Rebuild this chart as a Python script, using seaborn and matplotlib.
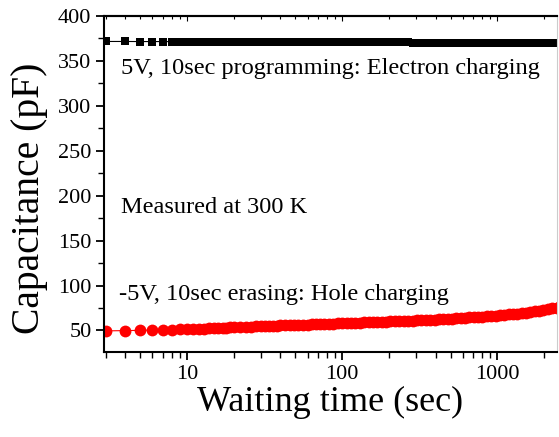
import numpy as np
import pandas as pd
import matplotlib
matplotlib.use("Agg")
import matplotlib.pyplot as plt
import matplotlib.ticker as mticker
import seaborn as sns

# waiting time in seconds
time_s = [3, 4, 5, 6, 7, 8, 9, 10, 11, 12, 13, 14, 15, 16, 17, 18, 19, 20,
          22, 24, 26, 28, 30, 32, 34, 36, 38, 40, 43, 46, 49, 52, 56, 60,
          64, 68, 72, 77, 82, 88, 94, 100, 107, 114, 122, 130, 139, 148,
          158, 169, 180, 192, 205, 219, 234, 250, 267, 285, 304, 324, 346,
          369, 394, 420, 448, 478, 510, 544, 580, 619, 660, 704, 751, 801,
          855, 912, 973, 1038, 1107, 1181, 1260, 1344, 1434, 1530, 1632,
          1741, 1857, 1981, 2113, 2254, 2404, 2500]

# capacitance after programming (pF)
cap_program = [371.6, 371.6, 371.5, 371.5, 371.5, 371.4, 371.4, 371.4, 371.3,
               371.3, 371.3, 371.3, 371.2, 371.2, 371.2, 371.2, 371.2, 371.1,
               371.1, 371.1, 371.1, 371.1, 371.0, 371.0, 371.0, 371.0, 371.0,
               371.0, 370.9, 370.9, 370.9, 370.9, 370.9, 370.8, 370.8, 370.8,
               370.8, 370.8, 370.8, 370.7, 370.7, 370.7, 370.7, 370.7, 370.7,
               370.6, 370.6, 370.6, 370.6, 370.6, 370.6, 370.5, 370.5, 370.5,
               370.5, 370.5, 370.5, 370.4, 370.4, 370.4, 370.4, 370.4, 370.4,
               370.4, 370.3, 370.3, 370.3, 370.3, 370.3, 370.3, 370.3, 370.2,
               370.2, 370.2, 370.2, 370.2, 370.2, 370.2, 370.1, 370.1, 370.1,
               370.1, 370.1, 370.1, 370.1, 370.0, 370.0, 370.0, 370.0, 370.0,
               370.0, 370.0]

# capacitance after erasing (pF)
cap_erase = [49.5, 49.8, 50.1, 50.4, 50.6, 50.9, 51.1, 51.4, 51.6, 51.9,
             52.1, 52.4, 52.6, 52.8, 53.0, 53.1, 53.3, 53.4, 53.7, 54.0,
             54.2, 54.4, 54.6, 54.8, 55.0, 55.2, 55.3, 55.5, 55.7, 55.9,
             56.0, 56.2, 56.4, 56.6, 56.8, 56.9, 57.1, 57.3, 57.5, 57.7,
             57.8, 58.0, 58.2, 58.4, 58.6, 58.7, 58.9, 59.1, 59.3, 59.5,
             59.6, 59.8, 60.0, 60.2, 60.4, 60.5, 60.7, 60.9, 61.2, 61.4,
             61.6, 61.9, 62.1, 62.4, 62.6, 62.8, 63.1, 63.4, 63.7, 64.1,
             64.4, 64.7, 65.1, 65.4, 65.7, 66.0, 66.4, 66.8, 67.3, 67.8,
             68.3, 68.8, 69.3, 69.8, 70.4, 71.3, 72.1, 73.0, 73.8, 74.7,
             75.5, 76.0]

y_ticks = [50, 100, 150, 200, 250, 300, 350, 400]
x_ticks = [10, 100, 1000]

df = pd.DataFrame({"t": time_s, "prog": cap_program, "erase": cap_erase})

sns.set_style("ticks")
plt.rcParams["font.family"] = ["Liberation Serif", "DejaVu Serif"]
plt.rcParams["text.color"] = "black"
plt.rcParams["axes.labelcolor"] = "black"
plt.rcParams["xtick.color"] = "black"
plt.rcParams["ytick.color"] = "black"

fig = plt.figure(figsize=(5.59, 4.37), dpi=100)
ax = fig.add_axes([0.186, 0.1945, 0.8104, 0.769])

sns.lineplot(data=df, x="t", y="prog", ax=ax, color="black", marker="s",
             markersize=6, markeredgewidth=0, linewidth=0.8)
sns.lineplot(data=df, x="t", y="erase", ax=ax, color="red", marker="o",
             markersize=8.5, markeredgewidth=0, linewidth=0.8)

ax.set_xscale("log")
ax.set_xlim(2.93, 2420)
ax.set_ylim(26, 400)
ax.set_yticks(y_ticks)
ax.yaxis.set_minor_locator(mticker.MultipleLocator(25))
ax.set_xticks(x_ticks)
ax.xaxis.set_major_formatter(mticker.FuncFormatter(lambda v, p: f"{v:g}"))
ax.xaxis.set_minor_locator(mticker.LogLocator(base=10, subs=np.arange(2, 10)))
ax.xaxis.set_minor_formatter(mticker.NullFormatter())

ax.tick_params(axis="both", which="major", labelsize=16, direction="out",
               length=6, width=1.3, pad=3)
ax.tick_params(axis="both", which="minor", direction="out", length=4,
               width=1.0)

# small inward ticks along the top frame
top = ax.secondary_xaxis("top")
top.set_xticks(x_ticks)
top.xaxis.set_minor_locator(mticker.LogLocator(base=10, subs=np.arange(2, 10)))
top.tick_params(which="both", direction="in", length=2.5, width=0.8,
                labeltop=False)
top.tick_params(which="major", length=3.5)
top.spines["top"].set_linewidth(1.5)

for side in ["left", "bottom", "top"]:
    ax.spines[side].set_linewidth(1.5)
    ax.spines[side].set_color("black")
ax.spines["right"].set_linewidth(0.8)
ax.spines["right"].set_color("#cccccc")

ax.set_xlabel("Waiting time (sec)", fontsize=26, labelpad=2)
ax.set_ylabel("Capacitance (pF)", fontsize=28.5)
ax.yaxis.set_label_coords(-0.124, 0.458)

ax.text(0.037, 0.845, "5V, 10sec programming: Electron charging",
        transform=ax.transAxes, fontsize=17.6, va="center", ha="left")
ax.text(0.037, 0.429, "Measured at 300 K",
        transform=ax.transAxes, fontsize=17.6, va="center", ha="left")
ax.text(0.033, 0.17, "-5V, 10sec erasing: Hole charging",
        transform=ax.transAxes, fontsize=17.6, va="center", ha="left")

fig.savefig("out.png", dpi=100)
